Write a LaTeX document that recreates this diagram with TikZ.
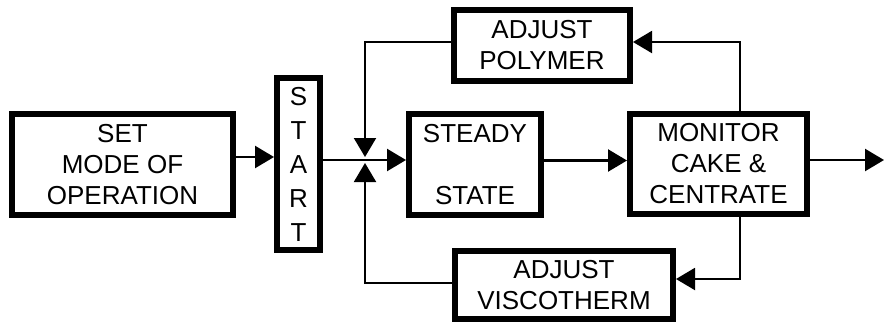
\documentclass[tikz,border=0pt]{standalone}
\usepackage{fontspec}
\setmainfont{Liberation Sans}
\usetikzlibrary{arrows.meta,positioning,calc}

\begin{document}
\begin{tikzpicture}[x=1pt,y=-1pt,
  blk/.style={draw,line width=6pt,inner sep=0pt,align=center,font=\fontsize{26}{31}\selectfont},
  mainln/.style={line width=2.5pt,-{Triangle[length=19pt,width=22pt]}},
  fbln/.style={line width=2pt,-{Triangle[length=19pt,width=22pt]}}]
\useasboundingbox (0,0) rectangle (884,322);
% blocks
\node[blk,minimum width=221pt,minimum height=101pt] (setmode) at (122.5,164.5) {SET\\MODE OF\\OPERATION};
\node[blk,minimum width=43pt,minimum height=172pt,font=\fontsize{26}{34}\selectfont] (start) at (298.5,164) {S\\T\\A\\R\\T};
\node[blk,minimum width=132pt,minimum height=101pt] (steady) at (475,164.5) {STEADY\\~\\STATE};
\node[blk,minimum width=177pt,minimum height=100pt] (monitor) at (718.5,164) {MONITOR\\CAKE \&\\CENTRATE};
\node[blk,minimum width=176pt,minimum height=71pt] (polymer) at (542,45.5) {ADJUST\\POLYMER};
\node[blk,minimum width=218pt,minimum height=68pt] (visco) at (564,285) {ADJUST\\VISCOTHERM};
% junction and taps
\coordinate (jn) at (365,160);
\coordinate (tap) at (740,0);
\coordinate (out) at (884,160);
% forward path
\draw[mainln] ([yshift=7.5pt]setmode.east) -- ([yshift=7.5pt]setmode.east -| start.west);
\draw[mainln] ([yshift=4pt]start.east) -- ([yshift=4pt]start.east -| steady.west);
\draw[mainln] ([yshift=4pt]steady.east) -- ([yshift=4pt]steady.east -| monitor.west);
\draw[mainln] ([yshift=4pt]monitor.east) -- (out);
% feedback loops
\draw[fbln] (monitor.north -| tap) |- ([yshift=3.5pt]polymer.east);
\draw[fbln] ([yshift=3.5pt]polymer.west) -| ([yshift=3pt]jn);
\draw[fbln] (monitor.south -| tap) |- ([yshift=6pt]visco.east);
\draw[fbln] ([yshift=2pt]visco.west) -| ([yshift=-3pt]jn);
\end{tikzpicture}
\end{document}
